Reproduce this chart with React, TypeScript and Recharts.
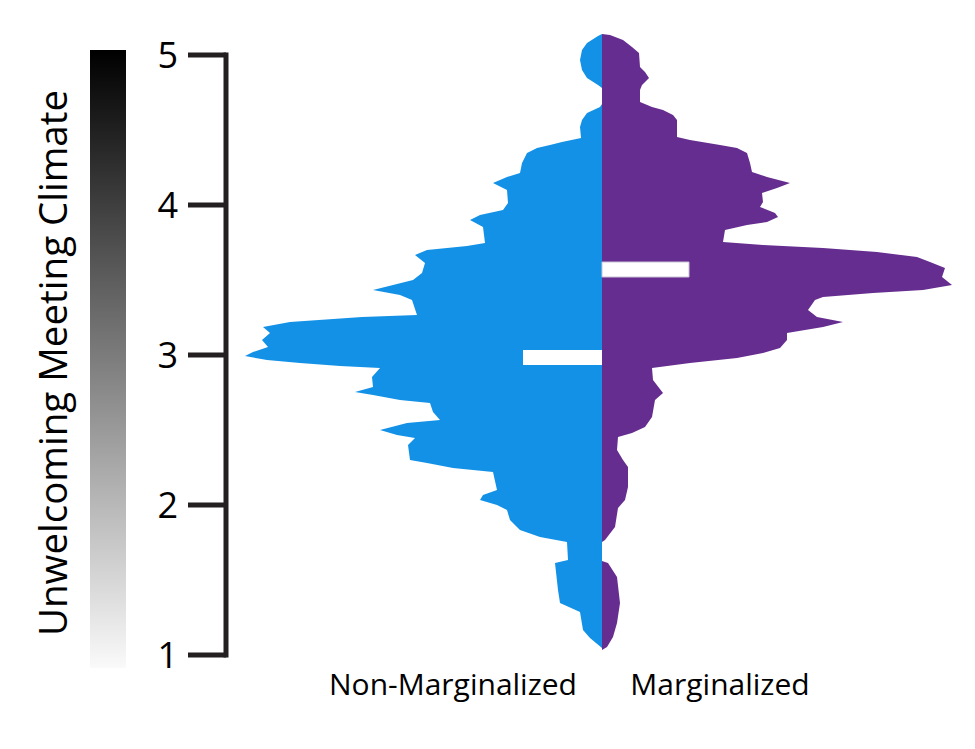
import {
  AreaChart,
  Area,
  XAxis,
  YAxis,
  ReferenceLine,
  ReferenceArea,
} from "recharts";

// climate score (v) vs. density width (w)
const nonMarginalized = [
  { v: 5.14, w: 0 }, { v: 5.127, w: -0.04 }, { v: 5.08, w: -0.15 }, { v: 5.033, w: -0.2 },
  { v: 4.967, w: -0.22 }, { v: 4.9, w: -0.2 }, { v: 4.847, w: -0.15 }, { v: 4.8, w: -0.04 },
  { v: 4.78, w: 0 }, { v: 4.673, w: 0 }, { v: 4.653, w: -0.02 }, { v: 4.613, w: -0.15 },
  { v: 4.567, w: -0.2 }, { v: 4.52, w: -0.22 }, { v: 4.447, w: -0.21 }, { v: 4.42, w: -0.4 },
  { v: 4.4, w: -0.52 }, { v: 4.38, w: -0.65 }, { v: 4.347, w: -0.75 }, { v: 4.28, w: -0.8 },
  { v: 4.213, w: -0.82 }, { v: 4.187, w: -0.95 }, { v: 4.147, w: -1.09 }, { v: 4.1, w: -0.95 },
  { v: 4.013, w: -0.94 }, { v: 3.967, w: -0.99 }, { v: 3.933, w: -1.22 }, { v: 3.9, w: -1.32 },
  { v: 3.853, w: -1.19 }, { v: 3.747, w: -1.17 }, { v: 3.727, w: -1.35 }, { v: 3.7, w: -1.75 },
  { v: 3.667, w: -1.87 }, { v: 3.613, w: -1.77 }, { v: 3.547, w: -1.8 }, { v: 3.5, w: -1.89 },
  { v: 3.473, w: -2.05 }, { v: 3.433, w: -2.29 }, { v: 3.4, w: -2.02 }, { v: 3.367, w: -1.9 },
  { v: 3.267, w: -1.85 }, { v: 3.253, w: -2.4 }, { v: 3.22, w: -3.12 }, { v: 3.187, w: -3.39 },
  { v: 3.147, w: -3.32 }, { v: 3.1, w: -3.4 }, { v: 3.053, w: -3.34 }, { v: 3.02, w: -3.49 },
  { v: 2.993, w: -3.57 }, { v: 2.967, w: -3.35 }, { v: 2.947, w: -3.02 }, { v: 2.927, w: -2.62 },
  { v: 2.913, w: -2.22 }, { v: 2.853, w: -2.3 }, { v: 2.787, w: -2.29 }, { v: 2.753, w: -2.47 },
  { v: 2.733, w: -2.29 }, { v: 2.7, w: -2.02 }, { v: 2.68, w: -1.72 }, { v: 2.62, w: -1.69 },
  { v: 2.567, w: -1.62 }, { v: 2.547, w: -1.95 }, { v: 2.5, w: -2.22 }, { v: 2.467, w: -2.05 },
  { v: 2.447, w: -1.87 }, { v: 2.4, w: -1.94 }, { v: 2.3, w: -1.92 }, { v: 2.28, w: -1.75 },
  { v: 2.247, w: -1.49 }, { v: 2.22, w: -1.09 }, { v: 2.1, w: -1.05 }, { v: 2.067, w: -1.19 },
  { v: 2.033, w: -1.22 }, { v: 2.0, w: -1.05 }, { v: 1.967, w: -0.95 }, { v: 1.9, w: -0.92 },
  { v: 1.833, w: -0.82 }, { v: 1.787, w: -0.62 }, { v: 1.753, w: -0.35 }, { v: 1.633, w: -0.34 },
  { v: 1.613, w: -0.47 }, { v: 1.433, w: -0.44 }, { v: 1.347, w: -0.42 }, { v: 1.287, w: -0.22 },
  { v: 1.167, w: -0.19 }, { v: 1.113, w: -0.12 }, { v: 1.047, w: 0 },
];

const marginalized = [
  { v: 5.14, w: 0 }, { v: 5.133, w: 0.08 }, { v: 5.1, w: 0.21 }, { v: 5.053, w: 0.3 },
  { v: 5.013, w: 0.37 }, { v: 4.92, w: 0.38 }, { v: 4.887, w: 0.43 }, { v: 4.847, w: 0.47 },
  { v: 4.8, w: 0.4 }, { v: 4.767, w: 0.38 }, { v: 4.687, w: 0.38 }, { v: 4.653, w: 0.5 },
  { v: 4.633, w: 0.61 }, { v: 4.6, w: 0.71 }, { v: 4.567, w: 0.75 }, { v: 4.453, w: 0.75 },
  { v: 4.433, w: 0.88 }, { v: 4.4, w: 1.18 }, { v: 4.38, w: 1.35 }, { v: 4.347, w: 1.45 },
  { v: 4.28, w: 1.48 }, { v: 4.22, w: 1.5 }, { v: 4.187, w: 1.65 }, { v: 4.147, w: 1.88 },
  { v: 4.113, w: 1.75 }, { v: 4.08, w: 1.6 }, { v: 4.02, w: 1.61 }, { v: 3.987, w: 1.58 },
  { v: 3.947, w: 1.73 }, { v: 3.92, w: 1.76 }, { v: 3.887, w: 1.65 }, { v: 3.867, w: 1.45 },
  { v: 3.833, w: 1.23 }, { v: 3.753, w: 1.21 }, { v: 3.733, w: 1.61 }, { v: 3.713, w: 2.21 },
  { v: 3.687, w: 2.75 }, { v: 3.653, w: 3.15 }, { v: 3.62, w: 3.28 }, { v: 3.58, w: 3.43 },
  { v: 3.52, w: 3.4 }, { v: 3.467, w: 3.5 }, { v: 3.433, w: 3.21 }, { v: 3.413, w: 2.71 },
  { v: 3.387, w: 2.21 }, { v: 3.367, w: 2.13 }, { v: 3.3, w: 2.06 }, { v: 3.253, w: 2.15 },
  { v: 3.22, w: 2.41 }, { v: 3.187, w: 2.21 }, { v: 3.147, w: 1.85 }, { v: 3.1, w: 1.85 },
  { v: 3.047, w: 1.78 }, { v: 3.013, w: 1.61 }, { v: 2.98, w: 1.35 }, { v: 2.947, w: 0.88 },
  { v: 2.913, w: 0.5 }, { v: 2.833, w: 0.51 }, { v: 2.747, w: 0.61 }, { v: 2.7, w: 0.53 },
  { v: 2.587, w: 0.5 }, { v: 2.52, w: 0.43 }, { v: 2.48, w: 0.3 }, { v: 2.453, w: 0.16 },
  { v: 2.367, w: 0.15 }, { v: 2.3, w: 0.21 }, { v: 2.253, w: 0.26 }, { v: 2.12, w: 0.26 },
  { v: 2.033, w: 0.23 }, { v: 1.98, w: 0.16 }, { v: 1.853, w: 0.13 }, { v: 1.767, w: 0.03 },
  { v: 1.753, w: 0 }, { v: 1.627, w: 0 }, { v: 1.613, w: 0.06 }, { v: 1.52, w: 0.15 },
  { v: 1.347, w: 0.18 }, { v: 1.213, w: 0.15 }, { v: 1.12, w: 0.11 }, { v: 1.053, w: 0.05 },
  { v: 1.033, w: 0 },
];

// medians: [non-marginalized, marginalized]
const medians = [2.983, 3.57];
const yTicks = [1, 2, 3, 4, 5];
const groupLabels = ["Non-Marginalized", "Marginalized"];

const FONT = "'Open Sans', sans-serif";
const BLUE = "#1391e6";
const PURPLE = "#652d8f";
const AXIS = "#231f20";

export default function App() {
  return (
    <div style={{ position: "absolute", left: 0, top: 0, width: 975, height: 749, background: "#fff" }}>
      <AreaChart
        width={975}
        height={749}
        layout="vertical"
        margin={{ top: 25, right: 13, left: 0, bottom: 79 }}
      >
        <XAxis type="number" dataKey="w" domain={[-3.76, 3.6]} hide allowDataOverflow />
        <YAxis
          type="number"
          dataKey="v"
          domain={[0.9, 5.2]}
          reversed
          ticks={yTicks}
          interval={0}
          allowDataOverflow
          width={226}
          axisLine={false}
          tickLine={{ stroke: AXIS, strokeWidth: 5 }}
          tickSize={38}
          tickMargin={10}
          tick={{ fontSize: 36, fill: "#000", fontFamily: FONT }}
        />
        <Area
          data={nonMarginalized}
          dataKey="w"
          type="linear"
          baseValue={0}
          stroke="none"
          fill={BLUE}
          fillOpacity={1}
          isAnimationActive={false}
        />
        <Area
          data={marginalized}
          dataKey="w"
          type="linear"
          baseValue={0}
          stroke="none"
          fill={PURPLE}
          fillOpacity={1}
          isAnimationActive={false}
        />
        <ReferenceArea x1={-0.79} x2={0} y1={medians[0] - 0.05} y2={medians[0] + 0.05} fill="#fff" fillOpacity={1} stroke="none" />
        <ReferenceArea x1={0} x2={0.87} y1={medians[1] - 0.05} y2={medians[1] + 0.05} fill="#fff" fillOpacity={1} stroke="#c9c3d6" strokeWidth={1} />
        <ReferenceLine
          segment={[{ x: -3.76, y: 0.983 }, { x: -3.76, y: 5.017 }]}
          stroke={AXIS}
          strokeWidth={5}
          ifOverflow="visible"
        />
      </AreaChart>
      <svg width={975} height={749} style={{ position: "absolute", left: 0, top: 0, pointerEvents: "none" }}>
        <defs>
          <linearGradient id="climate" x1="0" y1="0" x2="0" y2="1">
            <stop offset="0%" stopColor="#000" />
            <stop offset="100%" stopColor="#fafafa" />
          </linearGradient>
        </defs>
        <rect x={90} y={50} width={36} height={618} fill="url(#climate)" />
        <text
          transform="translate(67,363) rotate(-90)"
          textAnchor="middle"
          fontSize={38.5}
          fontFamily={FONT}
          fill="#000"
        >
          Unwelcoming Meeting Climate
        </text>
        <text x={453} y={695} textAnchor="middle" fontSize={30} fontFamily={FONT} fill="#000">
          {groupLabels[0]}
        </text>
        <text x={720} y={695} textAnchor="middle" fontSize={30} fontFamily={FONT} fill="#000">
          {groupLabels[1]}
        </text>
      </svg>
    </div>
  );
}
